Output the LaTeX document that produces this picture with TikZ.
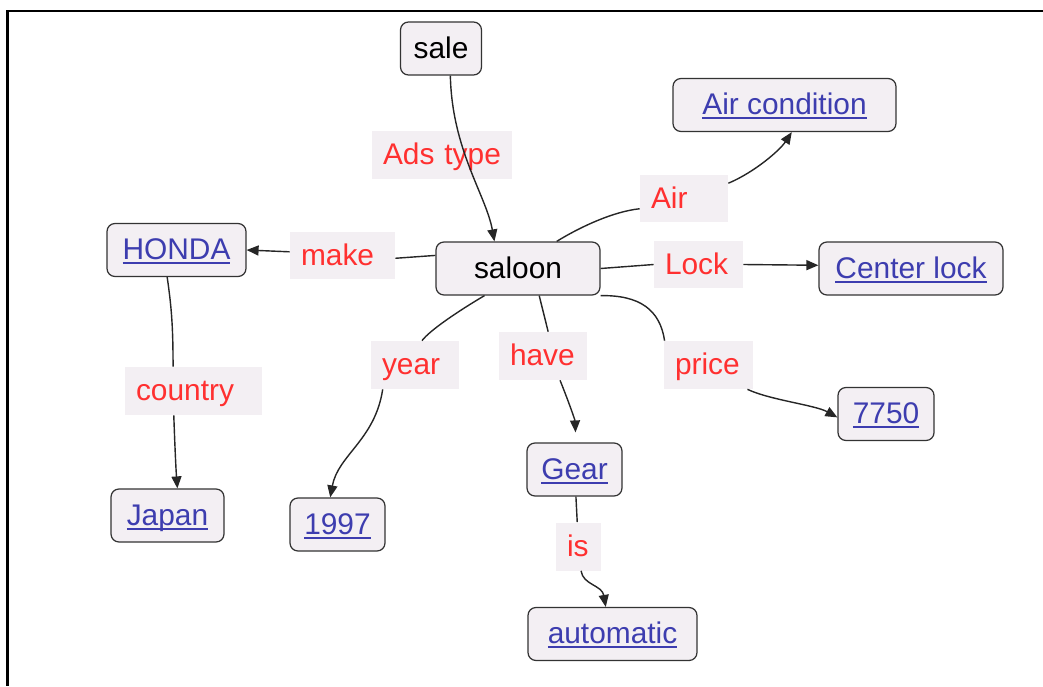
\documentclass[tikz,border=0pt]{standalone}
\usepackage{fontspec}
\setmainfont{Liberation Sans}
\usetikzlibrary{arrows.meta}
\definecolor{boxfill}{HTML}{F3EFF3}
\definecolor{linkblue}{HTML}{3D3DAF}
\definecolor{relred}{HTML}{FF3030}
\newsavebox{\ulbox}
\newcommand{\ulnk}[1]{\sbox{\ulbox}{#1}\rlap{\rule[-2.6pt]{\wd\ulbox}{1.1pt}}\usebox{\ulbox}}

\begin{document}
\begin{tikzpicture}[x=0.02cm, y=-0.02cm,
    every node/.style={font=\fontsize{17}{20}\selectfont, text height=14pt, text depth=3pt},
    concept/.style={draw=black!80, fill=boxfill, rounded corners=4.5pt, line width=0.7pt, inner sep=0pt, minimum height=1.06cm},
    valbox/.style={concept, text=linkblue},
    rel/.style={fill=boxfill, text=relred, align=left, inner xsep=0.22cm, inner ysep=0pt, minimum height=0.96cm},
    edgeline/.style={draw=black!85, line width=0.8pt},
    pointer/.style={edgeline, -{Triangle[length=2.4mm,width=2mm]}}]
    \useasboundingbox (0,0) rectangle (1043,686);
    \draw[line width=1.3pt] (1043,11) -- (7.5,11) -- (7.5,686);

    \node[concept, minimum width=1.62cm] (sale) at (441,48.5) {sale};
    \node[concept, minimum width=3.28cm] (saloon) at (518,268.5) {saloon};
    \node[valbox, minimum width=4.46cm] (aircond) at (784.5,105) {\ulnk{Air condition}};
    \node[valbox, minimum width=2.78cm] (honda) at (176.5,250) {\ulnk{HONDA}};
    \node[valbox, minimum width=3.68cm] (centerlock) at (911,268.5) {\ulnk{Center lock}};
    \node[valbox, minimum width=1.92cm] (p7750) at (886,414) {\ulnk{7750}};
    \node[valbox, minimum width=1.9cm] (gear) at (574.5,469.5) {\ulnk{Gear}};
    \node[valbox, minimum width=3.38cm] (automatic) at (612.5,634) {\ulnk{automatic}};
    \node[valbox, minimum width=2.26cm] (japan) at (167.5,515.5) {\ulnk{Japan}};
    \node[valbox, minimum width=1.9cm] (y1997) at (337.5,524.5) {\ulnk{1997}};

    \node[rel, text width=2.36cm] (adstype) at (442,155) {Ads type};
    \node[rel, text width=1.32cm] (air) at (684,198.5) {Air};
    \node[rel, text width=1.66cm] (make) at (342.5,255.5) {make};
    \node[rel, text width=1.34cm] (lock) at (698.5,264.5) {Lock};
    \node[rel, text width=1.32cm] (year) at (415,365) {year};
    \node[rel, text width=1.32cm] (have) at (543,356) {have};
    \node[rel, text width=1.34cm] (price) at (708.5,365) {price};
    \node[rel, text width=2.30cm] (country) at (193.5,391) {country};
    \node[rel, text width=0.46cm] (is) at (578.5,546.5) {is};

    \draw[pointer] (sale.-71) .. controls (452,150) and (486,195) .. (saloon.131);
    \draw[edgeline] (saloon.35) .. controls (575,230) and (610,212) .. (air.193);
    \draw[pointer] (air.19) .. controls (755,172) and (780,150) .. (aircond.-75);
    \draw[edgeline] (saloon.171) -- (make.-3);
    \draw[pointer] (make.176) -- (honda.east);
    \draw[edgeline] (saloon.east) -- (lock.west);
    \draw[pointer] (lock.east) -- (centerlock.178);
    \draw[edgeline] (saloon.south east) .. controls (640,295) and (660,310) .. (price.151);
    \draw[pointer] (price.-32) .. controls (770,400) and (815,405) .. (p7750.184);
    \draw[edgeline] (saloon.-52) -- (have.78);
    \draw[pointer, shorten >=0.2cm] (have.-55) .. controls (568,400) and (575,420) .. (gear.87);
    \draw[edgeline] (saloon.-141) .. controls (460,310) and (430,330) .. (year.74);
    \draw[pointer] (year.-143) .. controls (375,440) and (338,455) .. (y1997.105);
    \draw[edgeline] (honda.-109) .. controls (172,310) and (173,330) .. (country.130);
    \draw[pointer] (country.-129) .. controls (175,450) and (176,470) .. (japan.70);
    \draw[edgeline] (gear.-87) -- (is.93);
    \draw[pointer] (is.-84) .. controls (583,585) and (602,585) .. (automatic.104);
\end{tikzpicture}
\end{document}
